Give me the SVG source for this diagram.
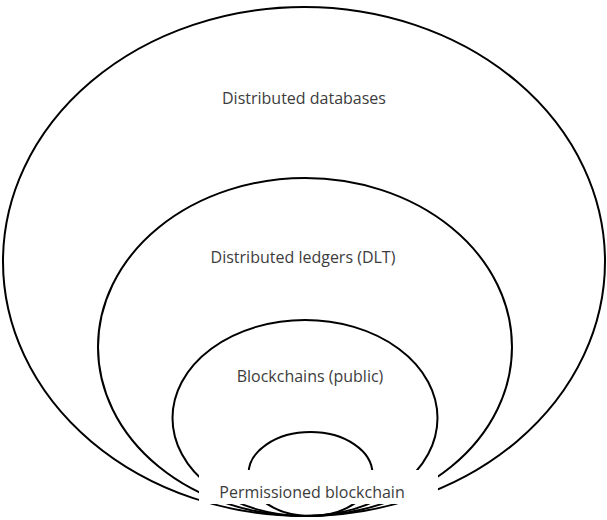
<svg xmlns="http://www.w3.org/2000/svg" width="607" height="520" viewBox="0 0 607 520">
<style>
.ring{fill:none;stroke:#000;stroke-width:2}
.lbl{font-family:"Open Sans","Liberation Sans",sans-serif;font-size:16px;fill:#3c3c3c;text-anchor:middle}
</style>
<rect width="607" height="520" fill="#fff"/>
<g id="connectors"></g>
<g id="n1"><ellipse class="ring" cx="304" cy="261.5" rx="301" ry="254.5"/></g>
<g id="n2"><ellipse class="ring" cx="305" cy="347" rx="207" ry="169"/></g>
<g id="n3"><ellipse class="ring" cx="305" cy="418" rx="132.5" ry="98"/></g>
<g id="n4"><ellipse class="ring" cx="310.5" cy="474" rx="62" ry="42"/></g>
<g id="t1"><text class="lbl" x="304" y="104">Distributed databases</text></g>
<g id="t2"><text class="lbl" x="303" y="263">Distributed ledgers (DLT)</text></g>
<g id="t3"><text class="lbl" x="310" y="382">Blockchains (public)</text></g>
<g id="t4"><rect x="199" y="470" width="239" height="34" fill="#fff"/><text class="lbl" x="312" y="498">Permissioned blockchain</text></g>
</svg>
